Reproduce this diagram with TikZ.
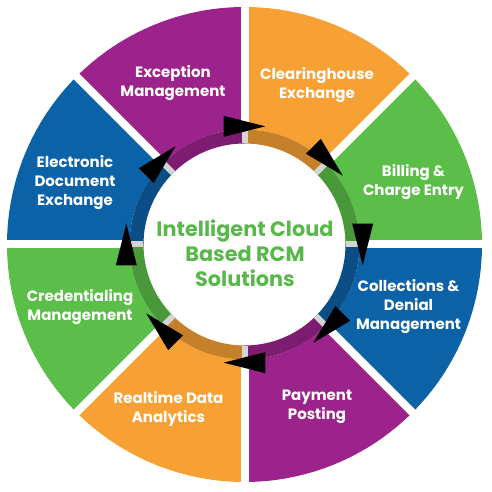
\documentclass[tikz,border=0pt]{standalone}
\usepackage{fontspec}
\setmainfont{Poppins}
\usetikzlibrary{calc}
\definecolor{rcmpurple}{RGB}{156,35,140}
\definecolor{rcmorange}{RGB}{247,160,52}
\definecolor{rcmgreen}{RGB}{91,190,72}
\definecolor{rcmblue}{RGB}{12,98,166}
\definecolor{hubgreen}{RGB}{88,184,74}
\tikzset{seglabel/.style={text=white,align=center,font=\fontsize{15}{19}\selectfont\bfseries},
  hublabel/.style={text=hubgreen,align=center,font=\fontsize{20.8}{25}\selectfont\bfseries},
  gapline/.style={white,line width=8pt},
  bandgap/.style={black!17,line width=6pt},
  cyclearrow/.style={fill=black}}

\begin{document}
\begin{tikzpicture}
		\useasboundingbox (-244.5pt,-247.5pt) rectangle (247.5pt,244.5pt);
		% segments and the darker inner band
		\foreach \a/\c in {90/rcmpurple,45/rcmorange,0/rcmgreen,-45/rcmblue,-90/rcmpurple,-135/rcmorange,180/rcmgreen,135/rcmblue}{
			\fill[\c] (\a:115pt) -- (\a:237.5pt) arc[start angle=\a,end angle=\a+45,radius=237.5pt] -- (\a+45:115pt) arc[start angle=\a+45,end angle=\a,radius=115pt] -- cycle;
			\draw[\c!80!black,line width=14pt] (\a:108pt) arc[start angle=\a,end angle=\a+45,radius=108pt];
		}
		\foreach \a in {0,45,...,315}{
			\draw[gapline] (\a:115pt) -- (\a:245pt);
			\draw[bandgap] (\a:101pt) -- (\a:115pt);
		}
		% clockwise arrows
		\foreach \a in {0,45,...,315}{
			\coordinate (tip) at (\a-10:120pt);
			\coordinate (base) at (\a+10:120pt);
			\fill[cyclearrow] (tip) -- ($(base)!10.5pt!90:(tip)$) -- ($(base)!10.5pt!-90:(tip)$) -- cycle;
		}
		\node[hublabel] (hub) at (0.5pt,-9pt) {Intelligent Cloud\\Based RCM\\Solutions};
		\node[seglabel] (exc) at (-71.5pt,161.5pt) {Exception\\Management};
		\node[seglabel] (clr) at (72.5pt,159.5pt) {Clearinghouse\\Exchange};
		\node[seglabel] (bill) at (169pt,62.5pt) {Billing \&\\Charge Entry};
		\node[seglabel] (coll) at (164pt,-62.5pt) {Collections \&\\Denial\\Management};
		\node[seglabel] (pay) at (72.5pt,-162.5pt) {Payment\\Posting};
		\node[seglabel] (rta) at (-76pt,-164pt) {Realtime Data\\Analytics};
		\node[seglabel] (cred) at (-164.5pt,-62.5pt) {Credentialing\\Management};
		\node[seglabel] (ede) at (-169.5pt,61.5pt) {Electronic\\Document\\Exchange};
\end{tikzpicture}
\end{document}
